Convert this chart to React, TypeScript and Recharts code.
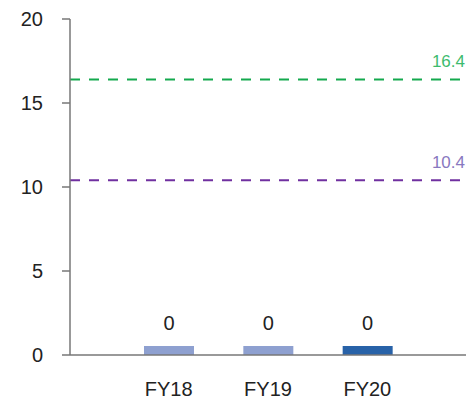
import React from "react";
import { BarChart, Bar, XAxis, YAxis, ReferenceLine, LabelList, Cell } from "recharts";

const categories = ["FY18", "FY19", "FY20"];
const values = [0, 0, 0];
const barColors = ["#8ea0d0", "#8ea0d0", "#2862a8"];
const yTicks = [0, 5, 10, 15, 20];
const refHigh = 16.4;
const refLow = 10.4;

const data = categories.map((c, i) => ({ name: c, value: values[i] }));

const makeRefLabel = (text: string, color: string) => (props: any) => {
  const vb = props.viewBox || {};
  return (
    <text
      x={(vb.x || 0) + (vb.width || 0) - 1}
      y={(vb.y || 0) - 12}
      textAnchor="end"
      fill={color}
      fontSize={17}
      fontFamily="Liberation Sans, Arial, sans-serif"
    >
      {text}
    </text>
  );
};

export default function App() {
  return (
    <div style={{ position: "absolute", left: 0, top: 0 }}>
      <BarChart
        width={466}
        height={399}
        data={data}
        margin={{ top: 19, right: 0, bottom: 0, left: 0 }}
      >
        <XAxis
          dataKey="name"
          height={44}
          padding={{ left: 49, right: 49 }}
          tickLine={false}
          tickSize={0}
          tickMargin={27}
          axisLine={{ stroke: "#777777", strokeWidth: 1.5 }}
          tick={{ fill: "#222222", fontSize: 20, fontFamily: "Liberation Sans, Arial, sans-serif" }}
        />
        <YAxis
          width={70}
          domain={[0, 20]}
          ticks={yTicks}
          tickSize={8}
          tickMargin={19}
          axisLine={{ stroke: "#777777", strokeWidth: 1.5 }}
          tickLine={{ stroke: "#777777", strokeWidth: 1.5 }}
          tick={{ fill: "#222222", fontSize: 20, fontFamily: "Liberation Sans, Arial, sans-serif" }}
        />
        <ReferenceLine
          y={refHigh}
          stroke="#14a94e"
          strokeWidth={2}
          strokeDasharray="10 9"
          label={makeRefLabel(String(refHigh), "#3dbb6e")}
        />
        <ReferenceLine
          y={refLow}
          stroke="#7030a0"
          strokeWidth={2}
          strokeDasharray="10 9"
          label={makeRefLabel(String(refLow), "#8878c0")}
        />
        <Bar dataKey="value" barSize={50} minPointSize={9} isAnimationActive={false}>
          {data.map((d, i) => (
            <Cell key={d.name} fill={barColors[i]} />
          ))}
          <LabelList
            dataKey="value"
            position="top"
            offset={16}
            fill="#222222"
            fontSize={20}
            fontFamily="Liberation Sans, Arial, sans-serif"
          />
        </Bar>
      </BarChart>
    </div>
  );
}
